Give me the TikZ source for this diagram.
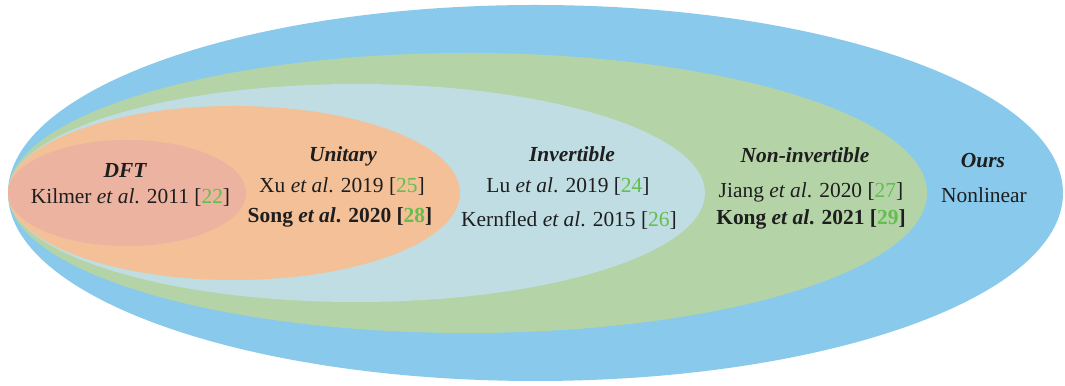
\documentclass[tikz,border=0pt]{standalone}
\usepackage{fontspec}
\setmainfont{Liberation Serif}
\usetikzlibrary{shapes.geometric}

\definecolor{oursblue}{RGB}{136,201,236}
\definecolor{noninvgreen}{RGB}{180,212,167}
\definecolor{invblue}{RGB}{191,221,226}
\definecolor{unitorange}{RGB}{243,192,152}
\definecolor{dftpink}{RGB}{236,179,160}
\definecolor{refgreen}{RGB}{98,190,78}
\definecolor{txt}{RGB}{30,30,30}

\newcommand{\refnum}[1]{[\textcolor{refgreen}{#1}]}
\newcommand{\etal}{\textit{et al}.}

\begin{document}
\begin{tikzpicture}
\tikzstyle{region}=[ellipse, inner sep=0pt, draw=none]
\tikzstyle{label}=[anchor=base, text=txt, inner sep=0pt, font=\fontsize{12.2}{14}\selectfont]
\tikzstyle{head}=[label, font=\fontsize{12.2}{14}\selectfont\bfseries\itshape]

\useasboundingbox (0,-3.86) rectangle (21.3,3.86);

% nested sets, all touching on the left
\draw (10.71,0) node[region, fill=oursblue, minimum width=21.1cm, minimum height=7.52cm] (ours) {};
\draw (9.35,0) node[region, fill=noninvgreen, minimum width=18.38cm, minimum height=5.6cm] (noninv) {};
\draw (7.13,0) node[region, fill=invblue, minimum width=13.94cm, minimum height=4.36cm] (inv) {};
\draw (4.68,0) node[region, fill=unitorange, minimum width=9.04cm, minimum height=3.48cm] (unit) {};
\draw (2.54,0) node[region, fill=dftpink, minimum width=4.76cm, minimum height=2.12cm] (dft) {};

\draw (2.50,0.30) node[head] (dfthead) {DFT};
\draw (2.61,-0.22) node[label] (kilmer) {Kilmer \etal{} 2011 \refnum{22}};

\draw (6.86,0.62) node[head] (unithead) {Unitary};
\draw (6.84,0) node[label] (xu) {Xu \etal{} 2019 \refnum{25}};
\draw (6.80,-0.60) node[label, font=\fontsize{12.2}{14}\selectfont\bfseries] (song) {Song \textit{et al}. 2020 \refnum{28}};

\draw (11.44,0.62) node[head] (invhead) {Invertible};
\draw (11.36,0) node[label] (lu) {Lu \etal{} 2019 \refnum{24}};
\draw (11.38,-0.68) node[label] (kernfled) {Kernfled \etal{} 2015 \refnum{26}};

\draw (16.10,0.60) node[head] (noninvhead) {Non-invertible};
\draw (16.22,-0.10) node[label] (jiang) {Jiang \etal{} 2020 \refnum{27}};
\draw (16.22,-0.64) node[label, font=\fontsize{12.2}{14}\selectfont\bfseries] (kong) {Kong \textit{et al}. 2021 \refnum{29}};

\draw (19.66,0.50) node[head] (ourshead) {Ours};
\draw (19.68,-0.20) node[label] (nonlinear) {Nonlinear};
\end{tikzpicture}
\end{document}
